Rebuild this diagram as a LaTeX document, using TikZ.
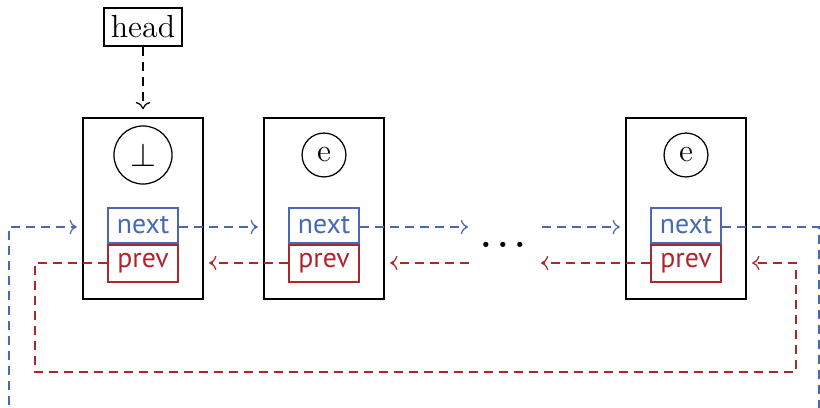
\documentclass[tikz,border=0pt]{standalone}
\usepackage{fontspec}
\newfontfamily\fieldfont{PT Sans}
\usetikzlibrary{arrows.meta}
\definecolor{nextblue}{RGB}{72,104,182}
\definecolor{prevred}{RGB}{172,38,42}
\begin{document}
\begin{tikzpicture}[x=0.36pt,y=-0.36pt,
  font=\fontsize{11.5}{13}\selectfont,
  plain/.style={dash pattern=on 3.2pt off 2.2pt,line width=0.45pt},
  link/.style={plain,-{To[length=2.6pt,width=5.2pt]}},
  cell/.style={draw,line width=0.45pt,minimum width=43.2pt,minimum height=65.2pt,inner sep=0pt},
  val/.style={draw,circle,line width=0.45pt,inner sep=0pt},
  field/.style={font=\fontsize{10}{11}\fieldfont,minimum width=25.2pt,inner sep=0pt,line width=0.45pt},
  nextf/.style={field,draw=nextblue,text=nextblue,minimum height=12.6pt},
  prevf/.style={field,draw=prevred,text=prevred,minimum height=13.3pt}]
\useasboundingbox (0,0) rectangle (820,408);

% head pointer
\node[draw,line width=0.45pt,minimum width=28.1pt,minimum height=13.7pt,inner sep=0pt] (head) at (143,27) {head};

% list cells
\node[cell] (c1) at (143,208.5) {};
\node[cell] (c2) at (324,208.5) {};
\node[cell] (c3) at (686,208.5) {};

\node[val,minimum size=20.9pt] (v1) at (143,155) {$\bot$};
\node[val,minimum size=15.8pt] (v2) at (324,155) {e};
\node[val,minimum size=15.8pt] (v3) at (686,155) {e};

\node[nextf] (n1) at (143,225.5) {next};
\node[prevf] (p1) at (143,263.5) {prev};
\node[nextf] (n2) at (324,225.5) {next};
\node[prevf] (p2) at (324,263.5) {prev};
\node[nextf] (n3) at (686,225.5) {next};
\node[prevf] (p3) at (686,263.5) {prev};

\node[anchor=base,inner sep=0pt,font=\fontsize{12}{14}\selectfont\boldmath] (dots) at (503,248) {$\ldots$};

% free ends of the links
\coordinate (na) at (468,227);
\coordinate (nb) at (542,227);
\coordinate (pa) at (469,263);
\coordinate (pb) at (541,263);
\coordinate (br) at (819,227);
\coordinate (bd) at (819,420);
\coordinate (bl) at (9,420);
\coordinate (bu) at (9,227);
\coordinate (r1) at (35,263);
\coordinate (r2) at (35,372);
\coordinate (r3) at (796,372);
\coordinate (r4) at (796,263);

\draw[link,shorten >=2.9pt] (head.south) -- (c1.north);

% next pointers
\begin{scope}[nextblue]
\draw[link,shorten >=2pt] (n1.east |- na) -- (na -| c2.west);
\draw[link] (n2.east |- na) -- (na);
\draw[link,shorten >=2pt] (nb) -- (nb -| c3.west);
\draw[plain] (n3.east |- na) -- (br) -- (bd);
\draw[link,shorten >=2pt] (bl) -- (bu) -- (bu -| c1.west);
\end{scope}

% prev pointers
\begin{scope}[prevred]
\draw[link,shorten >=2pt] (p2.west |- r1) -- (r1 -| c1.east);
\draw[link,shorten >=2pt] (pa) -- (pa -| c2.east);
\draw[link] (p3.west |- r1) -- (pb);
\draw[link,shorten >=2pt] (p1.west |- r1) -- (r1) -- (r2) -- (r3) -- (r4) -- (r4 -| c3.east);
\end{scope}
\end{tikzpicture}
\end{document}
